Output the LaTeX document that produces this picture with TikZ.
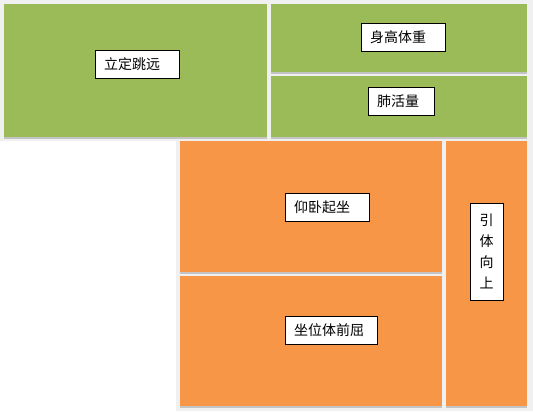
\documentclass[tikz,border=0pt]{standalone}
\usepackage{fontspec}
\newfontfamily\cjk{Noto Sans CJK SC}
\usetikzlibrary{positioning}
\definecolor{tilegreen}{HTML}{9BBB59}
\definecolor{tileorange}{HTML}{F79646}
\definecolor{gapgrey}{HTML}{F0F0F0}

\tikzset{
  tag/.style={draw=black, fill=white, line width=0.8pt, inner xsep=9pt, inner ysep=0pt,
    minimum height=28pt, align=left, font=\cjk\fontsize{14pt}{21pt}\selectfont},
  tileshadow/.style={fill=black, opacity=0.18}
}

\begin{document}
\begin{tikzpicture}[x=1pt, y=-1pt]
    \useasboundingbox[fill=white] (0,0) rectangle (533,413);
    \fill[gapgrey] (0,0) rectangle (533,141);
    \fill[gapgrey] (176,137) rectangle (533,411);

    % tiles
    \foreach \xa/\ya/\xb/\yb/\col in {4/4/267/137/tilegreen, 271/4/527/72/tilegreen,
        271/76/527/137/tilegreen, 180/141/442/272/tileorange,
        180/276/442/406/tileorange, 446/141/527/406/tileorange}{
        \fill[tileshadow] (\xa,\yb) rectangle (\xb,\yb+2);
        \fill[\col] (\xa,\ya) rectangle (\xb,\yb);
    }

    % labels
    \node[tag, text width=66pt] (ldty) at (137,64) {立定跳远};
    \node[tag, text width=66pt] (sgtz) at (403,37) {身高体重};
    \node[tag, text width=48pt] (fhl) at (401,101.5) {肺活量};
    \node[tag, text width=66pt] (ywqz) at (327,207) {仰卧起坐};
    \node[tag, text width=74pt] (zwtqq) at (331,330) {坐位体前屈};
    \node[tag, text width=15pt, align=center, minimum height=97pt] (ytxs) at (486.5,251.5) {引\\体\\向\\上};
\end{tikzpicture}
\end{document}
